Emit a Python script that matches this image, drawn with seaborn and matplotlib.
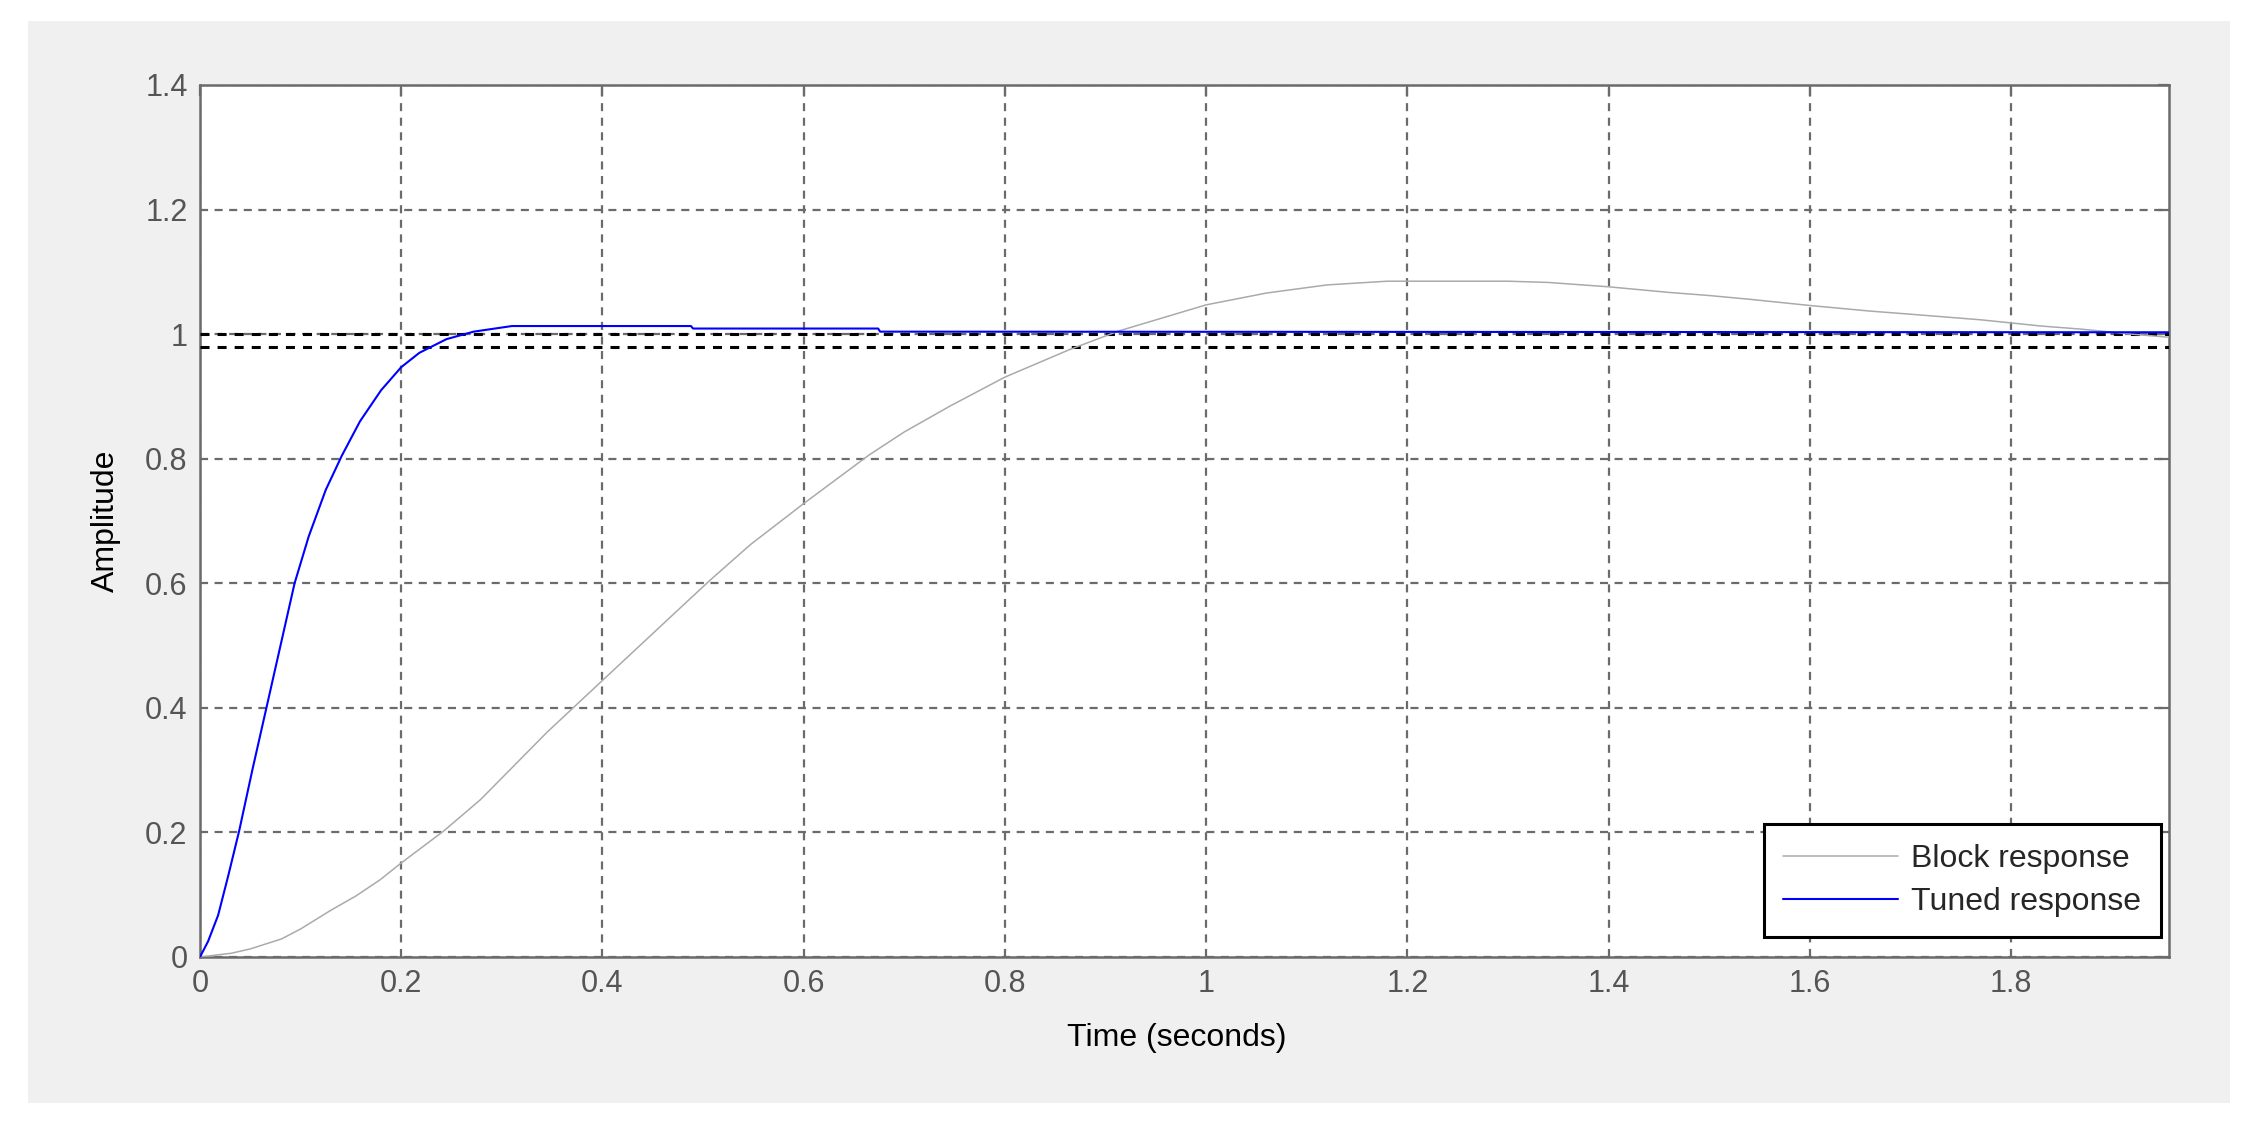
import matplotlib
matplotlib.use("Agg")
import matplotlib.pyplot as plt
from matplotlib.patches import Rectangle
import pandas as pd
import seaborn as sns

W, H = 2263, 1128

# step responses
block_t = [0, 0.031, 0.05, 0.081, 0.1, 0.13, 0.155, 0.179, 0.2, 0.242, 0.279, 0.345,
           0.4, 0.477, 0.507, 0.547, 0.6, 0.665, 0.7, 0.746, 0.8, 0.864, 0.913, 1.0,
           1.06, 1.12, 1.18, 1.3, 1.34, 1.4, 1.46, 1.5, 1.54, 1.6, 1.66, 1.7, 1.77,
           1.8, 1.83, 1.87, 1.92, 1.957]
block_y = [0, 0.006, 0.013, 0.029, 0.045, 0.075, 0.098, 0.124, 0.151, 0.202, 0.253, 0.361,
           0.444, 0.56, 0.605, 0.662, 0.728, 0.806, 0.843, 0.885, 0.931, 0.975, 1.005, 1.047,
           1.066, 1.079, 1.085, 1.085, 1.083, 1.076, 1.067, 1.062, 1.056, 1.046, 1.037, 1.032, 1.023,
           1.018, 1.013, 1.008, 1.0, 0.995]

tuned_t = [0, 0.008, 0.018, 0.028, 0.039, 0.052, 0.066, 0.08, 0.094, 0.108, 0.125,
           0.141, 0.159, 0.18, 0.2, 0.218, 0.245, 0.272, 0.31, 0.488, 0.49, 0.674,
           0.676, 1.957]
tuned_y = [0, 0.025, 0.067, 0.13, 0.203, 0.3, 0.4, 0.5, 0.6, 0.675, 0.75,
           0.805, 0.86, 0.91, 0.947, 0.97, 0.992, 1.004, 1.013, 1.013, 1.009, 1.009,
           1.004, 1.003]

settle_levels = [1.0, 0.98]
x_ticks = [0, 0.2, 0.4, 0.6, 0.8, 1.0, 1.2, 1.4, 1.6, 1.8]
x_labels = ["0", "0.2", "0.4", "0.6", "0.8", "1", "1.2", "1.4", "1.6", "1.8"]
y_ticks = [0, 0.2, 0.4, 0.6, 0.8, 1.0, 1.2, 1.4]
y_labels = ["0", "0.2", "0.4", "0.6", "0.8", "1", "1.2", "1.4"]
t_end = 1.957

sns.set_theme(style="white")
plt.rcParams["font.family"] = ["Liberation Sans", "DejaVu Sans"]
plt.rcParams["lines.scale_dashes"] = False

fig = plt.figure(figsize=(W / 100, H / 100), dpi=100, facecolor="white")
fig.patches.append(Rectangle((28 / W, 25 / H), 2202 / W, 1082 / H,
                             transform=fig.transFigure, facecolor="#f0f0f0",
                             edgecolor="none", zorder=-1))
ax = fig.add_axes([200 / W, (H - 957) / H, (2169 - 200) / W, (957 - 85) / H])
ax.set_facecolor("white")

block = pd.DataFrame({"Time": block_t, "Amplitude": block_y})
tuned = pd.DataFrame({"Time": tuned_t, "Amplitude": tuned_y})

# settling band
for lvl in settle_levels:
    ax.axhline(lvl, color="black", linestyle=(0, (6.5, 5.8)), linewidth=2.2, zorder=3)

sns.lineplot(data=block, x="Time", y="Amplitude", color="#aaaaaa", linewidth=1.1,
             sort=False, estimator=None, label="Block response", ax=ax, zorder=4)
sns.lineplot(data=tuned, x="Time", y="Amplitude", color="#0000ff", linewidth=1.5,
             sort=False, estimator=None, label="Tuned response", ax=ax, zorder=5)

ax.set_xlim(0, t_end)
ax.set_ylim(0, 1.4)
ax.set_xticks(x_ticks, x_labels)
ax.set_yticks(y_ticks, y_labels)
ax.grid(True, color="#6b6b6b", linestyle=(0, (5.8, 4.7)), linewidth=1.6)
ax.set_axisbelow(True)

for s in ax.spines.values():
    s.set_color("#6b6b6b")
    s.set_linewidth(1.8)
ax.tick_params(direction="in", length=8, width=1.6, color="#6b6b6b",
               top=True, right=True, labelsize=22, labelcolor="#555555", pad=9)

ax.set_xlabel("Time (seconds)", fontsize=23, color="black")
ax.set_ylabel("Amplitude", fontsize=23, color="black")
ax.xaxis.set_label_coords(0.496, (957 - 1038) / 872)
ax.xaxis.label.set_va("center")
ax.yaxis.set_label_coords(-0.048, 0.5)
ax.yaxis.label.set_va("center")

leg = ax.legend(loc="lower right", bbox_to_anchor=(2161 / W, (H - 937) / H),
                bbox_transform=fig.transFigure, borderaxespad=0, fontsize=23,
                frameon=True, fancybox=False, framealpha=1, edgecolor="black",
                handlelength=3.6, handletextpad=0.4, labelspacing=0.42, borderpad=0.62)
leg.get_frame().set_linewidth(2.2)

fig.savefig("out.png", dpi=100)
